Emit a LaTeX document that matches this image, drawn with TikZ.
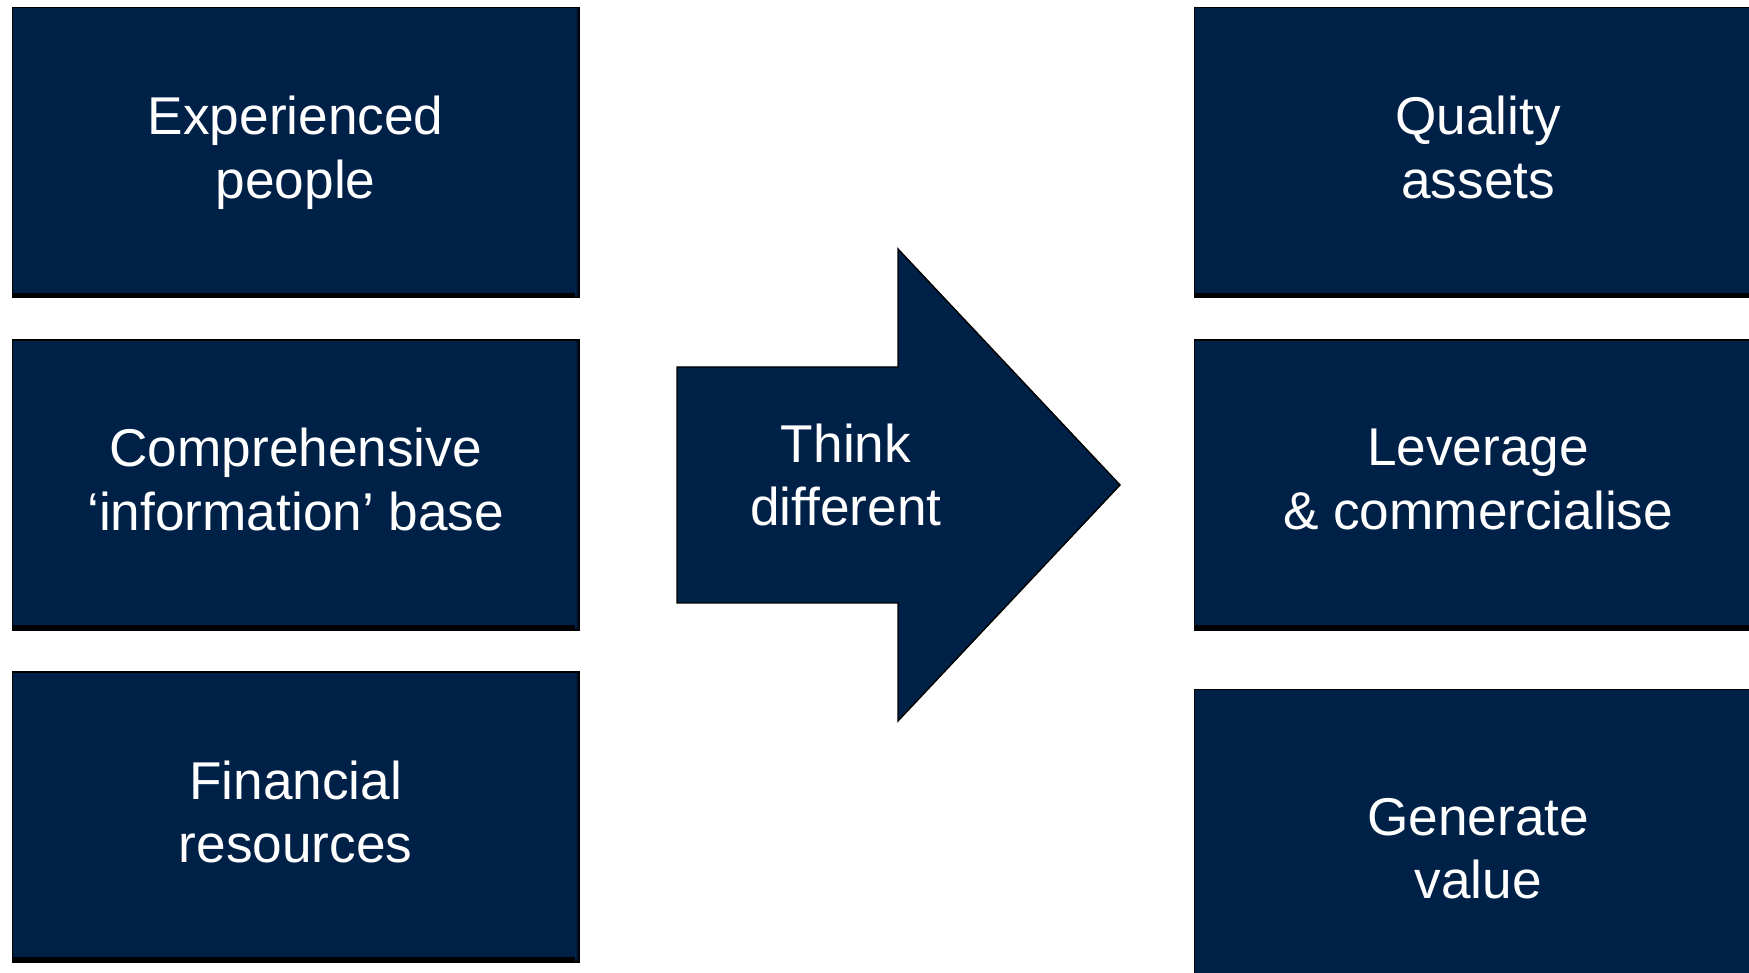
\documentclass[tikz,border=0pt]{standalone}
\usepackage{fontspec}
\setmainfont{Liberation Sans}
\usetikzlibrary{positioning}

\definecolor{navy}{RGB}{0,33,71}

\begin{document}
\begin{tikzpicture}[x=0.5pt,y=0.5pt,node distance=20.4pt,
                box node/.style={rectangle,draw=black,line width=0.7pt,fill=navy,
                  text=white,align=center,minimum width=283.5pt,minimum height=145pt,
                  font=\fontsize{26.6}{31.8}\selectfont,
                  execute at end node={\rule[-5.6pt]{0pt}{5.6pt}},
                  path picture={
                    \shade[top color=navy,bottom color=black]
                      (path picture bounding box.south west) rectangle
                      ([yshift=2.2pt]path picture bounding box.south east);
                    \shade[left color=navy,right color=black]
                      ([xshift=-2pt]path picture bounding box.south east) rectangle
                      (path picture bounding box.north east);}}]

  \useasboundingbox (0,0) rectangle (1749,973);
  \clip (0,0) rectangle (1749,973);

  \node[box node] (1) at (295.7,820.2) {Experienced\\people};
  \node[box node] (2) [below=of 1] {Comprehensive\\‘information’ base};
  \node[box node] (3) [below=of 2] {Financial\\resources};
  \node[box node] (4) [right=307pt of 1] {Quality\\assets};
  \node[box node] (5) [below=of 4] {Leverage\\\& commercialise};
  \node[box node,minimum height=164.5pt] (6) [below=29pt of 5] {Generate\\value};

  % big arrow in the middle
  \draw[fill=navy,line width=0.7pt,line join=miter]
    (677,606) -- (898,606) -- (898,724) -- (1120,488)
    -- (898,252) -- (898,370) -- (677,370) -- cycle;
  \node[align=center,text=white,font=\fontsize{26.6}{31.8}\selectfont] (7)
    at (846,498) {Think\\different};

\end{tikzpicture}
\end{document}
